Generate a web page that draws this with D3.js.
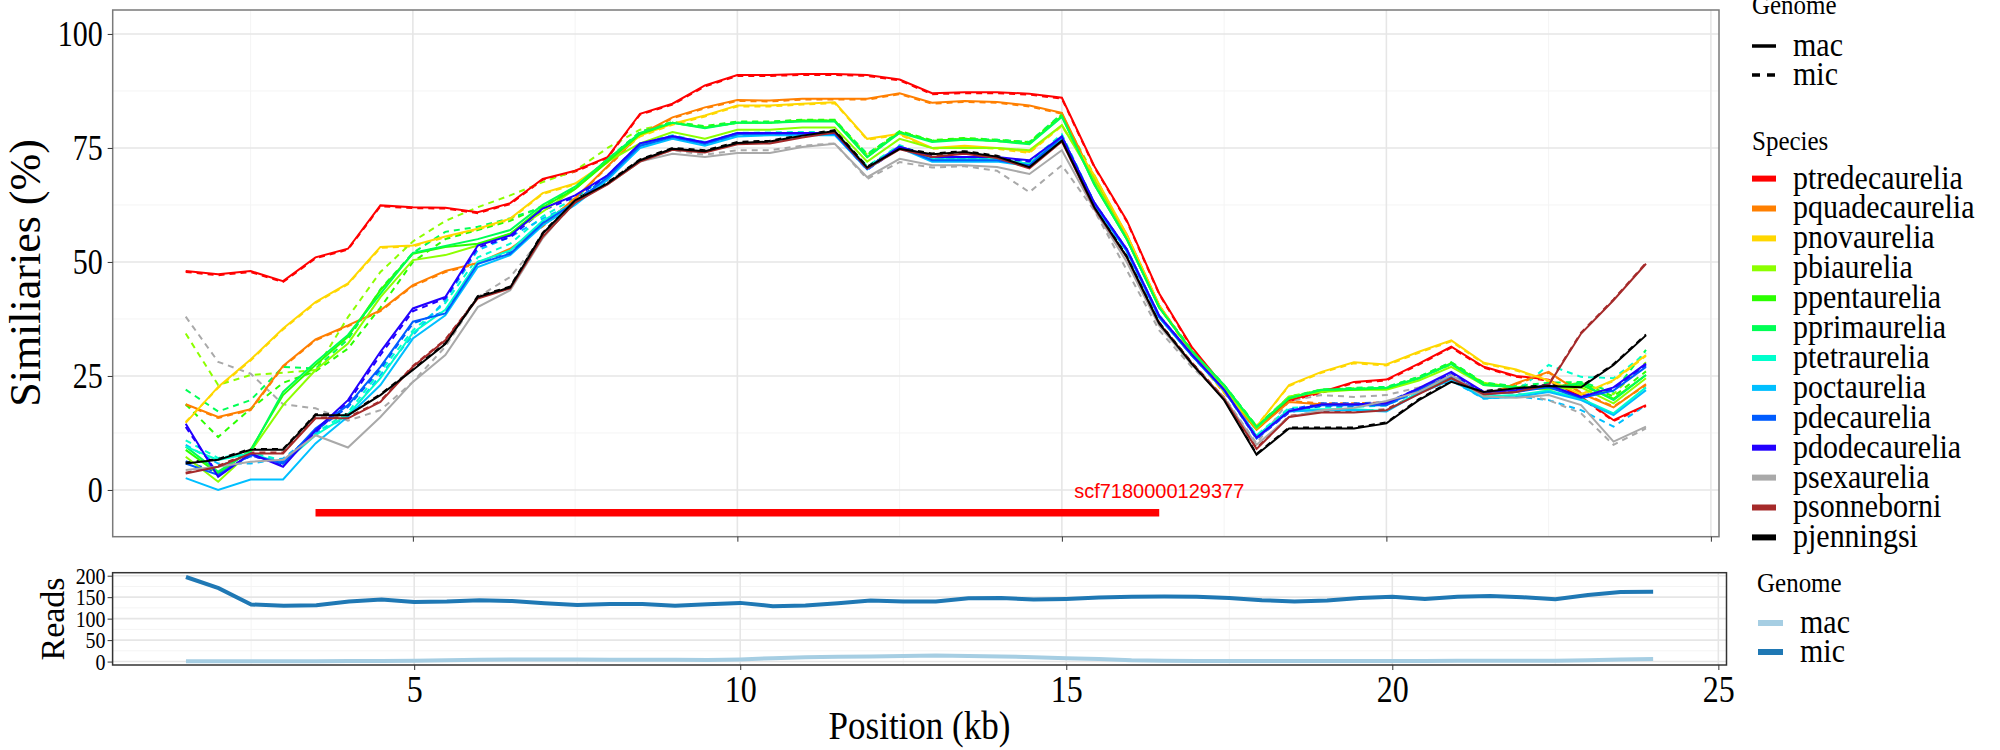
<!DOCTYPE html>
<html>
<head>
<meta charset="utf-8">
<script src="https://cdn.jsdelivr.net/npm/d3@7"></script>
<style>
  body{margin:0;background:#fff;}
  text{font-family:"Liberation Serif","Times New Roman",serif;}
  .tall{transform-box:fill-box;transform-origin:center;transform:scaleY(1.17);}
  .leg{transform-box:fill-box;transform-origin:center;transform:scaleY(1.1);}
</style>
</head>
<body>
<script>
// positions (kb) shared by every series
const kb=[1.5,2,2.5,3,3.5,4,4.5,5,5.5,6,6.5,7,7.5,8,8.5,9,9.5,10,10.5,11,11.5,12,12.5,13,13.5,14,14.5,15,15.5,16,16.5,17,17.5,18,18.5,19,19.5,20,20.5,21,21.5,22,22.5,23,23.5,24];

const species=['ptredecaurelia','pquadecaurelia','pnovaurelia','pbiaurelia','ppentaurelia','pprimaurelia','ptetraurelia','poctaurelia','pdecaurelia','pdodecaurelia','psexaurelia','psonneborni','pjenningsi'];
const speciesColors=['#FF0000','#FF7F00','#FFD700','#8CFF00','#2BFF00','#00FF55','#00FFCC','#00BFFF','#005CFF','#2200FF','#A9A9A9','#A52A2A','#000000'];
const genomes=['mac','mic'];

// similarity (%) per species, mac genome
const mac_ptredecaurelia=[48,47.3,48,45.8,51,52.9,62.4,62,61.9,60.9,62.9,68.2,70,73,82.5,84.7,88.7,91,91,91.2,91.2,91,90,87,87.2,87.2,86.9,86,71,59.1,43.1,31.4,22.6,13.5,19.7,21.5,23.7,24.2,27.7,31.4,27,25,24.2,20.4,15.3,18.6];
const mac_pquadecaurelia=[18.8,16,17.7,27.2,33,36.1,39.4,44.9,48,49.8,52.9,58,64,71,78,81.7,83.9,85.5,85.4,85.8,85.8,85.8,87,84.9,85.3,85.1,84.3,82.7,68,56,40.5,30.2,21.5,13.2,19.3,18.8,18.8,19,22,24.8,20.4,23.4,25.9,21.2,18.1,23.2];
const mac_pnovaurelia=[14.7,22.6,28.6,35.4,41.2,45.3,53.3,53.6,55.6,57.3,59.5,65.1,67.2,72,77.7,80.3,82.1,84.3,84.3,84.7,85,77,78.1,75,75.5,75,74.1,80,69,56,40.5,30,21.5,13.9,23,25.9,28,27.5,30.3,32.8,27.9,26.4,24,21,24.1,29.6];
const mac_pbiaurelia=[7.3,1.8,8.4,18.6,26.3,32.1,42.3,50.4,51.5,53.6,56.2,61,66,72,76,78.5,77,79,79,79.5,79.5,72,77,75,75,75,74.5,80,68,55,40,30.5,22.5,13.5,20.5,21.5,22,22,24,27,23,22.5,22,22.5,19,24.5];
const mac_ppentaurelia=[8.8,3.6,8.8,20.8,27.4,33.6,43.8,51.8,53.3,54,56.2,62,66,72,78,80.5,79.5,80.5,80.5,81,81,73,78.5,76.5,77,76.5,76,82,67,55,40,30.5,23,13.8,20,22,22,22.3,24.5,27.8,23.2,22.5,22.3,23,20,25.2];
const mac_pprimaurelia=[9.5,4,8.5,21.5,28,34,43,52,53.5,55,57,62.5,66.5,72.5,78.3,80.5,79.3,80.5,80.5,80.8,80.8,73,78.3,76.3,76.8,76.5,75.8,81.8,67,55,40,30.5,23,13.8,20.2,21.9,22.2,22.4,24.5,27.6,23,22.5,22.3,23.4,19.7,25.2];
const mac_ptetraurelia=[9.5,6.6,8,5.8,12,16.5,24.5,34.5,39.5,50,52.5,59,63,68.5,75.5,77.5,76,78,78.2,78.2,78.2,70.6,75.3,72.5,72.5,72.5,71.5,77.5,62.8,52.6,38,29.6,21.9,11.8,17.5,17.7,17.7,17.3,21.5,24.5,20.5,20.8,21.8,20,16.8,22.5];
const mac_poctaurelia=[2.6,0,2.3,2.3,10.2,16.1,23,33.2,38.3,48.9,51.5,58,62.5,68,75,77,75.5,77.5,77.8,77.8,77.8,70.3,75,72,72,72,71,77,62.5,52.3,37.8,29.5,21.8,11.5,17.2,17.5,17.5,17.2,21.2,24.1,20.1,20.4,21.5,19.7,16.4,21.9];
const mac_pdecaurelia=[5.8,3.3,7.7,5.8,13.5,18.6,27,36.9,38.7,49.6,51.8,58.5,63,68.5,75.5,77.4,75.9,78,78.1,78.1,78.1,70.4,75.2,72.3,72.3,72.3,71.2,77.4,62.8,52.6,38,29.6,21.9,11.3,17.2,18.6,18.6,18.6,22,25,21,21.5,22.5,20.2,21.8,27];
const mac_pdodecaurelia=[14.5,2.9,8,5.1,13.1,19.7,30.3,39.8,42.3,53.6,55.8,61.7,64.6,69,76,77.6,76.2,78.3,78.3,78.3,78.3,70.5,75.3,73,73,73,72.3,77.5,63,52.8,38.2,29.8,22,11.5,17.3,18.8,18.8,19,22.3,25.9,21.5,21.9,23,20.4,22.5,27.7];
const mac_psexaurelia=[4.4,5.1,6.2,6.6,12,9.3,16,23.7,29.6,40.1,43.8,55.2,63.5,67,72,73.7,73,73.9,73.9,75.2,75.9,68.6,72.6,71.2,71.2,70.8,69.3,74.5,61.5,50,36,27.5,20.2,9.9,16,17.5,18,19.5,21.5,25.2,20.5,20.2,20.8,18.6,10.6,13.9];
const mac_psonneborni=[3.6,5.1,8,8,15.7,15.7,19.3,27,32.8,42,44.2,55.5,63,67,72,74.6,74,75.8,76,77.3,78.4,70.5,74.7,73,73.7,72.8,70.5,76.4,61.8,51,36.5,27.8,20,9,16,17,17,17.5,21,24.5,21,21.5,23,34.3,41.6,49.6];
const mac_pjenningsi=[5.8,6.6,8.8,8.8,16.4,16.4,20.8,26.3,32,42.3,44.4,56.2,63.5,67.2,72.3,74.8,74.3,76.1,76.4,77.7,78.7,70.7,74.8,73.6,74.1,73.1,70.8,76.6,62,51.1,36.5,27.7,19.7,7.7,13.5,13.5,13.5,14.6,19.7,23.7,21.5,22.3,22.8,22.5,27.4,33.9];

// similarity (%) per species, mic genome
const mic_ptredecaurelia=[47.8,47.1,47.8,45.6,50.8,52.7,62.2,61.8,61.7,60.7,62.7,68,69.8,72.8,82.3,84.5,88.5,90.8,90.8,91,91,90.8,89.8,86.8,87,87,86.7,85.8,70.8,58.9,42.9,31.2,22.4,13.3,19.5,21.3,23.5,24,27.5,31.2,26.8,24.8,24,20.2,15.1,18.4];
const mic_pquadecaurelia=[18.6,15.8,17.5,27,32.8,35.9,39.2,44.7,47.8,49.6,52.7,57.8,63.8,70.8,77.8,81.5,83.7,85.3,85.2,85.6,85.6,85.6,86.8,84.7,85.1,84.9,84.1,82.5,67.8,55.8,40.3,30,21.3,13.4,19.5,19,19,19.2,21.8,24.6,20.6,23.2,25.7,21.4,18.3,23];
const mic_pnovaurelia=[14.9,22.4,28.4,35.2,41,45.1,53.1,53.4,55.4,57.1,59.3,64.9,67,71.8,77.5,80.1,81.9,84.1,84.1,84.5,84.8,76.8,77.9,74.8,75.3,74.8,73.9,79.8,68.8,55.8,40.3,29.8,21.3,14.1,22.8,25.7,27.8,27.3,30.1,32.6,27.7,26.2,23.8,20.8,23.9,29.4];
const mic_pbiaurelia=[34.3,23,25.2,25.7,26.3,37.9,47.8,54.5,59,62,64.6,67.5,70,75,79,80.5,79.5,80.5,80.5,81,81,73.5,78.5,76.5,77,76.5,76,82,69,55.5,40,30.5,22.5,13.8,20.5,22,22.3,22.3,24.5,27.5,23.5,22.5,22.5,23.5,21,28];
const mic_ppentaurelia=[18.8,11.6,17.8,23.5,26,31,40,50,55,57,59,62.3,66.3,72.5,78.5,80.7,79.8,80.8,80.8,81.2,81.2,73.5,78.7,76.7,77.2,76.8,76.3,82.3,67.5,55.2,40.2,30.6,23,14,20.3,22,22.2,22.5,24.8,28,23.5,22.7,22.8,23.5,20.5,26];
const mic_pprimaurelia=[22,17.2,19.7,27,26.6,33,44,52,56.6,57.7,59.6,62,66,72.5,78.5,80.7,79.6,80.7,80.7,81,81,73.7,78.5,76.6,77,76.8,76.3,82.5,67.5,55.5,40.3,30.7,23,14,20.4,22,22.4,22.6,24.8,28,23.5,22.8,23.5,23.7,21.5,30.7];
const mic_ptetraurelia=[10.9,7,8.2,6.5,12.5,17,26,35,41,51,54,60,64,69,76,77.8,76.3,78.3,78.4,78.5,78.5,71,75.6,72.8,72.8,72.8,72,78,63,52.8,38.3,29.8,22,12,18,18.2,18.2,18.5,22,25,21,21.5,27.4,24.8,24.5,30];
const mic_poctaurelia=[9.9,5.8,5.8,6.9,12.4,16.1,25.2,33.9,41.6,52.6,55.5,59.5,63,68.5,75.5,77.3,75.8,77.7,78,78,78,70.5,75.2,72.2,72.2,72.2,71.2,77.2,62.6,52.4,37.9,29.6,21.8,11.6,17.5,18.5,18.6,18.6,21.5,24,20,20.5,19.7,17.5,13.9,18.6];
const mic_pdecaurelia=[6.3,3.8,7.4,6.2,13,18.2,26.5,36.5,39.2,50,52.2,58.8,63.3,68.8,75.8,77.6,76.1,78.2,78.3,78.3,78.3,70.7,75.4,72.6,72.6,72.5,71.5,77.6,63,52.8,38.2,29.8,22,11.8,17.6,19,19,19.2,22.3,25.3,21.3,21.8,22.8,20.6,22.3,27.5];
const mic_pdodecaurelia=[13.8,3.4,7.6,5.5,12.7,19.2,29.6,39.2,42,53.2,55.4,61.3,64.3,68.7,75.7,77.3,76,78,78.1,78.1,78.1,70.2,75,72.7,72.8,72.7,72,77.2,62.7,52.5,38,29.5,21.8,11.2,17,18.5,18.5,18.7,22,25.6,21.2,21.6,22.7,20.1,22.1,27.3];
const mic_psexaurelia=[38,28.1,25.5,18.8,17.9,15.2,17.5,23.7,31.4,42.3,46.7,55.5,63,67.5,72.5,74.5,73.5,74.5,74.5,75.5,76,68.2,71.9,70.7,71,70,65.3,71.2,61.3,48.2,35,27,20.4,10.2,19.5,20.8,20.4,20.8,22.5,25,21.5,21.2,19.7,16.8,9.9,13.5];
const mic_psonneborni=[3.8,5.3,8.2,8.2,15.9,15.9,19.5,27.2,33,42.2,44.4,55.7,63.2,67.2,72.2,74.8,74.2,76,76.2,77.5,78.6,70.7,74.9,73.2,73.9,73,70.7,76.6,62,51.2,36.7,28,20.2,9.2,16.2,17.2,17.2,17.7,21.2,24.7,21.2,21.7,23.2,34.5,41.8,49.8];
const mic_pjenningsi=[6,6.8,9,9,16.6,16.6,21,26.5,32.2,42.5,44.6,56.4,63.7,67.4,72.5,75,74.5,76.3,76.6,77.9,78.9,70.9,75,73.8,74.3,73.3,71,76.8,62.2,51.3,36.7,27.9,19.9,7.9,13.7,13.7,13.7,14.8,19.9,23.9,21.7,22.5,23,22.7,27.6,34.1];

// reads per genome
const readsMac=[1,1,1,1,1,1.5,1.5,2,3,4.5,5,5,5,4.5,4.5,4,3.5,5,8,10,11,12,13,14,13,12,10,8,6,3,2,1.5,1.5,1.5,1.5,1.5,1.5,1.5,1.5,2,2,2,2,3,5,6];
const readsMic=[197,171,133,130,131,140,144.5,139,140,143,141,136,132,134,134,130,133.6,136.7,129,130.5,136,142,140,140,147.7,148,144.5,146,149,151,151.6,151,148,143,140,142,148,151,146,151,153,150,145,155,162,162.5];
const readsColors=['#A6CEE3','#1F78B4'];

// scaffold annotation
const scaffoldStart=3.5, scaffoldEnd=16.5, scaffoldY=-5, scaffoldLabel='scf7180000129377';

const xTicks=[5,10,15,20,25];
const xMinor=[2.5,7.5,12.5,17.5,22.5];
const yTicksTop=[0,25,50,75,100];
const yMinorTop=[12.5,37.5,62.5,87.5];
const yTicksBot=[0,50,100,150,200];
const yMinorBot=[25,75,125,175];

const macSeries=[mac_ptredecaurelia,mac_pquadecaurelia,mac_pnovaurelia,mac_pbiaurelia,mac_ppentaurelia,mac_pprimaurelia,mac_ptetraurelia,mac_poctaurelia,mac_pdecaurelia,mac_pdodecaurelia,mac_psexaurelia,mac_psonneborni,mac_pjenningsi];
const micSeries=[mic_ptredecaurelia,mic_pquadecaurelia,mic_pnovaurelia,mic_pbiaurelia,mic_ppentaurelia,mic_pprimaurelia,mic_ptetraurelia,mic_poctaurelia,mic_pdecaurelia,mic_pdodecaurelia,mic_psexaurelia,mic_psonneborni,mic_pjenningsi];

const W=2000,H=750;
const svg=d3.select('body').append('svg').attr('width',W).attr('height',H);
svg.append('rect').attr('width',W).attr('height',H).attr('fill','#fff');

// ---------- top panel ----------
const xTop=d3.scaleLinear().domain([0.375,25.125]).range([112.7,1719]);
const yTop=d3.scaleLinear().domain([-10.25,105.25]).range([536.7,10]);

const topG=svg.append('g');
svg.append('clipPath').attr('id','clipTop').append('rect')
  .attr('x',112.7).attr('y',10).attr('width',1719-112.7).attr('height',536.7-10);

function grid(g,x,y,xs,ys,color,w){
  g.selectAll(null).data(xs).enter().append('line')
    .attr('x1',d=>x(d)).attr('x2',d=>x(d)).attr('y1',y.range()[0]).attr('y2',y.range()[1])
    .attr('stroke',color).attr('stroke-width',w);
  g.selectAll(null).data(ys).enter().append('line')
    .attr('y1',d=>y(d)).attr('y2',d=>y(d)).attr('x1',x.range()[0]).attr('x2',x.range()[1])
    .attr('stroke',color).attr('stroke-width',w);
}
grid(topG,xTop,yTop,xMinor,yMinorTop,'#F4F4F4',1);
grid(topG,xTop,yTop,xTicks,yTicksTop,'#E6E6E6',1.6);

const lineTop=d3.line().x((d,i)=>xTop(kb[i])).y(d=>yTop(d));
const linesG=topG.append('g').attr('clip-path','url(#clipTop)');
// mic (dashed) underneath, mac (solid) on top
species.forEach((s,k)=>{
  linesG.append('path').datum(micSeries[k]).attr('d',lineTop)
    .attr('fill','none').attr('stroke',speciesColors[k]).attr('stroke-width',2)
    .attr('stroke-dasharray','6,5');
});
species.forEach((s,k)=>{
  linesG.append('path').datum(macSeries[k]).attr('d',lineTop)
    .attr('fill','none').attr('stroke',speciesColors[k]).attr('stroke-width',2);
});

// scaffold bar + label
topG.append('line')
  .attr('x1',xTop(scaffoldStart)).attr('x2',xTop(scaffoldEnd))
  .attr('y1',yTop(scaffoldY)).attr('y2',yTop(scaffoldY))
  .attr('stroke','#FF0000').attr('stroke-width',7.5);
topG.append('text').attr('x',xTop(scaffoldEnd)).attr('y',yTop(-1.8))
  .attr('text-anchor','middle').attr('fill','#FF0000')
  .style('font-family','"Liberation Sans",Arial,sans-serif').style('font-size','20px')
  .text(scaffoldLabel);

topG.append('rect').attr('x',112.7).attr('y',10).attr('width',1719-112.7).attr('height',526.7)
  .attr('fill','none').attr('stroke','#7A7A7A').attr('stroke-width',1.5);

const yAxisTop=topG.append('g').attr('transform','translate(112.7,0)')
  .call(d3.axisLeft(yTop).tickValues(yTicksTop).tickSize(5).tickPadding(5));
yAxisTop.select('.domain').remove();
yAxisTop.selectAll('line').attr('stroke','#333');
yAxisTop.selectAll('text').style('font-size','30px').attr('fill','#000')
  .style('font-family','"Liberation Serif",serif').classed('tall',true);

const xAxisTop=topG.append('g').attr('transform','translate(0,536.7)')
  .call(d3.axisBottom(xTop).tickValues(xTicks).tickSize(5).tickFormat(''));
xAxisTop.select('.domain').remove();
xAxisTop.selectAll('line').attr('stroke','#333');

topG.append('text').attr('transform','translate(40,273) rotate(-90)')
  .attr('text-anchor','middle').style('font-size','44px').text('Similiaries (%)');

// top legends
const legTop=svg.append('g');
legTop.append('text').attr('x',1752).attr('y',13).style('font-size','25px').classed('leg',true).text('Genome');
genomes.forEach((g,i)=>{
  const cy=46+i*29;
  legTop.append('line').attr('x1',1752).attr('x2',1776).attr('y1',cy).attr('y2',cy)
    .attr('stroke','#000').attr('stroke-width',3.5).attr('stroke-dasharray',i?'8,7':null);
  legTop.append('text').attr('x',1793).attr('y',cy+9).style('font-size','30px').classed('leg',true).text(g);
});
legTop.append('text').attr('x',1752).attr('y',149).style('font-size','25px').classed('leg',true).text('Species');
species.forEach((s,i)=>{
  const cy=178.6+i*29.9;
  legTop.append('line').attr('x1',1752).attr('x2',1776).attr('y1',cy).attr('y2',cy)
    .attr('stroke',speciesColors[i]).attr('stroke-width',6);
  legTop.append('text').attr('x',1793).attr('y',cy+9).style('font-size','30px').classed('leg',true).text(s);
});

// ---------- bottom panel ----------
const xBot=d3.scaleLinear().domain([0.375,25.125]).range([112.6,1726.5]);
const yBot=d3.scaleLinear().domain([-8,207]).range([665,572.7]);
const botG=svg.append('g');
grid(botG,xBot,yBot,xMinor,yMinorBot,'#F4F4F4',1);
grid(botG,xBot,yBot,xTicks,yTicksBot,'#E6E6E6',1.6);

const lineBot=d3.line().x((d,i)=>xBot(kb[i])).y(d=>yBot(d));
[readsMac,readsMic].forEach((r,i)=>{
  botG.append('path').datum(r).attr('d',lineBot).attr('fill','none')
    .attr('stroke',readsColors[i]).attr('stroke-width',4);
});
botG.append('rect').attr('x',112.6).attr('y',572.7).attr('width',1726.5-112.6).attr('height',665-572.7)
  .attr('fill','none').attr('stroke','#333').attr('stroke-width',1.5);

const yAxisBot=botG.append('g').attr('transform','translate(112.6,0)')
  .call(d3.axisLeft(yBot).tickValues(yTicksBot).tickSize(5).tickPadding(2));
yAxisBot.select('.domain').remove();
yAxisBot.selectAll('line').attr('stroke','#333');
yAxisBot.selectAll('text').style('font-size','20px').attr('fill','#000')
  .style('font-family','"Liberation Serif",serif').classed('tall',true);

const xAxisBot=botG.append('g').attr('transform','translate(0,665)')
  .call(d3.axisBottom(xBot).tickValues(xTicks).tickSize(5).tickPadding(8));
xAxisBot.select('.domain').remove();
xAxisBot.selectAll('line').attr('stroke','#333');
xAxisBot.selectAll('text').style('font-size','32px').attr('fill','#000')
  .style('font-family','"Liberation Serif",serif').classed('tall',true);

botG.append('text').attr('transform','translate(64,619) rotate(-90)')
  .attr('text-anchor','middle').style('font-size','34px').text('Reads');
botG.append('text').attr('x',919.5).attr('y',737).attr('text-anchor','middle')
  .style('font-size','35px').classed('tall',true).text('Position (kb)');

const legBot=svg.append('g');
legBot.append('text').attr('x',1757).attr('y',591).style('font-size','25px').classed('leg',true).text('Genome');
genomes.forEach((g,i)=>{
  const cy=623+i*29;
  legBot.append('line').attr('x1',1758).attr('x2',1783).attr('y1',cy).attr('y2',cy)
    .attr('stroke',readsColors[i]).attr('stroke-width',6);
  legBot.append('text').attr('x',1800).attr('y',cy+9).style('font-size','30px').classed('leg',true).text(g);
});
</script>
</body>
</html>
